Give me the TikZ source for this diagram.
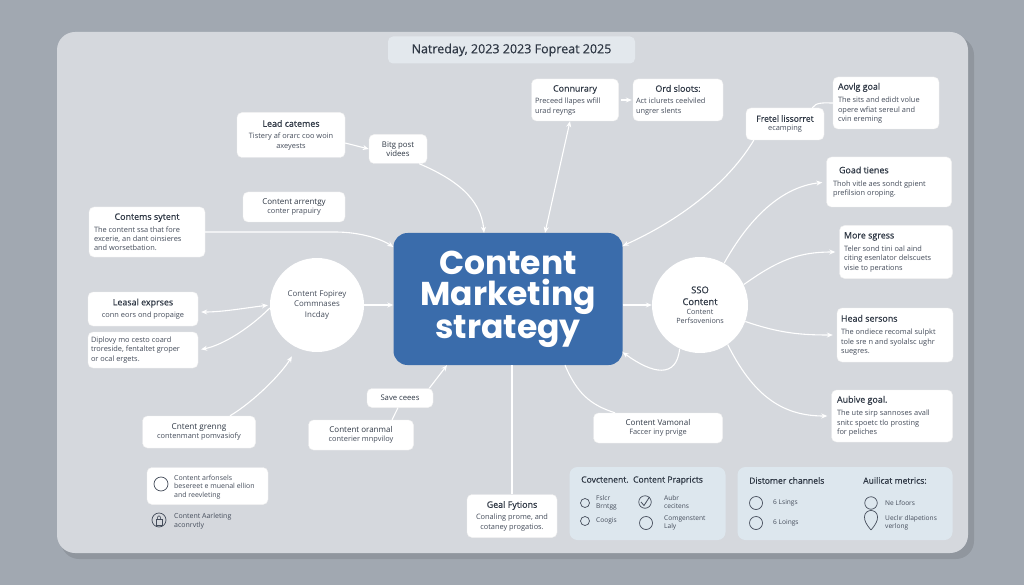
\documentclass[tikz,border=0pt]{standalone}
\usepackage{fontspec}
\setmainfont{Open Sans}
\newfontfamily\popfont{Poppins}
\newfontfamily\semifont{Open Sans}[FakeBold=0.5]
\usetikzlibrary{arrows.meta}
\definecolor{outerbg}{HTML}{A1A8B1}
\definecolor{panelbg}{HTML}{D5D8DD}
\definecolor{txt}{HTML}{454D5B}
\definecolor{ttlc}{HTML}{2F3845}
\definecolor{cblue}{HTML}{3A6CAB}
\definecolor{chk}{HTML}{DDE7EE}
\definecolor{titlebg}{HTML}{E3E8ED}
\newcommand\fz[2]{\fontsize{#1}{#2}\selectfont}
\newcommand\cttl[1]{{\centering\semifont\fz{8.9}{10.8}\color{ttlc}#1\par}\vspace{3pt}}
\newcommand\lttl[1]{{\semifont\fz{8.9}{10.8}\color{ttlc}#1\par}\vspace{4pt}}
\newcommand\bdy{\fz{7.4}{9.2}}
\tikzset{
  card/.style={fill=white, draw=white!88!gray, line width=0.4pt, rounded corners=5pt,
    inner sep=0pt, text=txt, align=flush center, font=\fz{7.4}{9.2}},
  conn/.style={draw=white, line width=1.1pt},
  arr/.style={conn, -{Stealth[length=6pt,width=5pt]}},
  arrb/.style={conn, {Stealth[length=6pt,width=5pt]}-{Stealth[length=6pt,width=5pt]}},
  bubble/.style={circle, fill=white, inner sep=0pt, text=txt, align=flush center},
  ico/.style={circle, draw=txt, line width=0.7pt, inner sep=0pt},
  itxt/.style={anchor=west, inner sep=0pt, text=txt, align=left, font=\fz{6.6}{7.5}},
  ptxt/.style={anchor=west, inner sep=0pt, text=ttlc, font=\semifont\fz{8.6}{10}},
}
\begin{document}
\begin{tikzpicture}[x=1pt,y=-1pt]
\useasboundingbox (0,0) rectangle (1024,585);
\fill[outerbg] (0,0) rectangle (1024,585);
\fill[black, opacity=0.10, rounded corners=18pt] (61,37) rectangle (974,559);
\fill[panelbg, rounded corners=18pt] (57,32) rectangle (968,553);

% title
\node[fill=titlebg, rounded corners=5pt, minimum width=247pt, minimum height=27pt, inner sep=0pt,
  text=ttlc, font=\semifont\fz{12.5}{14}] (title) at (511.5,50) {Natreday, 2023 2023 Fopreat 2025};

% central
\node[fill=cblue, rounded corners=14pt, minimum width=229pt, minimum height=132pt, inner sep=0pt,
  text=white, text width=210pt, align=flush center, font=\popfont\bfseries\fz{33}{31}] (central) at (508,299)
  {Content\\Marketing\\strategy};

% left side cards
\node[card, minimum width=108pt, minimum height=45pt, text width=102pt] (lead) at (291,135)
  {\cttl{Lead catemes}\bdy Tistery af orarc coo woin\\axeyests};
\node[card, minimum width=58pt, minimum height=29pt, text width=54pt, font=\fz{7.8}{9.4}] (blog) at (398,149)
  {\color{ttlc}Bitg post\\videes};
\node[card, minimum width=102pt, minimum height=30pt, text width=96pt] (arrentgy) at (294,207)
  {{\fz{8}{10}\color{ttlc}Content arrentgy\par}\bdy conter prapuiry};
\node[card, minimum width=116pt, minimum height=50pt, text width=106pt, align=flush left] (contems) at (147,232)
  {\cttl{Contems sytent}\bdy The content ssa that fore\\excerie, an dant oinsieres\\and worsetbation.};
\node[card, minimum width=110pt, minimum height=34pt, text width=104pt] (leasal) at (143,309)
  {\cttl{Leasal exprses}\bdy conn eors ond propaige};
\node[card, minimum width=110pt, minimum height=36pt, text width=104pt, align=flush left] (diplovy) at (143,350)
  {\bdy Diplovy mo cesto coard\\troreside, fentaltet groper\\or ocal ergets.};
\node[bubble, minimum size=94pt, text width=80pt, font=\fz{7.9}{10.8}] (lcirc) at (317,305)
  {Content Fopirey\\Commnases\\Incday};

% top cards
\node[card, minimum width=87pt, minimum height=42pt, text width=80pt, align=flush left] (connurary) at (575,100)
  {\cttl{Connurary}\bdy Preceed llapes wfill\\urad reyngs};
\node[card, minimum width=90pt, minimum height=42pt, text width=84pt, align=flush left] (ordsloots) at (678,100)
  {\cttl{Ord sloots:}\bdy Act iclurets ceelviled\\ungrer slents};
\node[card, minimum width=78pt, minimum height=32pt, text width=74pt] (fretel) at (785,124)
  {{\centering\semifont\fz{8.6}{10.5}\color{ttlc}Fretel lissorret\par}\bdy ecamping};

% right cards
\node[card, minimum width=106pt, minimum height=52pt, text width=96pt, align=flush left] (aovig) at (886,103)
  {\lttl{Aovlg goal}\bdy The sits and edidt volue\\opere wfiat sereul and\\cvin ereming};
\node[card, minimum width=125pt, minimum height=50pt, text width=112pt, align=flush left] (goad) at (889,182)
  {\lttl{\hspace*{6pt}Goad tienes}\bdy Thoh vitle aes sondt gpient\\prefilsion oroping.};
\node[card, minimum width=113pt, minimum height=53pt, text width=104pt, align=flush left] (more) at (896,252)
  {\lttl{More sgress}\bdy Teler sond tini oal aind\\citing esenlator delscuets\\visie to perations};
\node[card, minimum width=116pt, minimum height=54pt, text width=108pt, align=flush left] (head) at (895,335)
  {\lttl{Head sersons}\bdy The ondiece recomal sulpkt\\tole sre n and syolalsc ughr\\suegres.};
\node[card, minimum width=121pt, minimum height=52pt, text width=110pt, align=flush left] (aubive) at (892,416)
  {\lttl{Aubive goal.}\bdy The ute sirp sannoses avall\\snitc spoetc tlo prosting\\for peliches};
\node[bubble, minimum size=96pt, text width=82pt, font=\fz{7.2}{9.2}] (rcirc) at (700,305)
  {{\semifont\fz{9.4}{11.8}\color{ttlc}SSO\\Content\par}{\fz{7.2}{9.2}Content\\Perfsovenions\par}};

% bottom cards
\node[card, minimum width=129pt, minimum height=30pt, text width=120pt] (vamonal) at (658,428)
  {{\fz{8}{10}\color{ttlc}Content Vamonal\par}\bdy Faccer iny prvige};
\node[card, minimum width=90pt, minimum height=43pt, text width=88pt] (geal) at (512,516)
  {\cttl{Geal Fytions}\bdy Conaling prome, and\\cotaney progatios.};
\node[card, minimum width=113pt, minimum height=32pt, text width=106pt] (grening) at (199,432)
  {{\fz{8.2}{10}\color{ttlc}Cntent grenng\par}\bdy contenmant pomvasiofy};
\node[card, minimum width=105pt, minimum height=30pt, text width=100pt] (oranmal) at (361,435)
  {{\fz{8}{10}\color{ttlc}Content oranmal\par}\bdy conterier mnpviloy};
\node[card, minimum width=66pt, minimum height=19pt, text width=60pt, font=\fz{7.7}{9}] (save) at (400,398)
  {\color{ttlc}Save ceees};

% bottom-left items
\node[card, minimum width=121pt, minimum height=37pt] (artf) at (207.5,486) {};
\node[ico, minimum size=14pt] (artfi) at (161,484) {};
\node[itxt, font=\fz{7}{8.7}] (artft) at (174,487) {Content arfonsels\\besereet e muenal ellion\\and reevleting};
\node[ico, minimum size=14pt] (lockico) at (159,520) {};
\draw[txt, line width=0.6pt] (156,519.5) rectangle (162,525);
\draw[txt, line width=0.6pt] (157.2,519.5) .. controls (157.2,514.5) and (160.8,514.5) .. (160.8,519.5);
\node[itxt, font=\fz{7}{8.7}] (aarlt) at (174,521) {Content Aarleting\\aconrvtly};

% checklist panels
\node[fill=chk, rounded corners=8pt, minimum width=156pt, minimum height=73pt, inner sep=0pt] (p1) at (647.5,503.5) {};
\node[fill=chk, rounded corners=8pt, minimum width=215pt, minimum height=73pt, inner sep=0pt] (p2) at (845,503.5) {};
\node[ptxt] (p1t) at (581,480.5) {Covctenent.\ \ Content Prapricts};
\node[ptxt] (p2a) at (749,480.5) {Distomer channels};
\node[ptxt] (p2b) at (863,480.5) {Auilicat metrics:};

\node[ico, minimum size=9pt] (i1) at (585,503) {};
\node[itxt] (i1t) at (596,503) {Fslcr\\Brntgg};
\node[ico, minimum size=9pt] (i2) at (585,521) {};
\node[itxt] (i2t) at (596,521) {Coogis};
\node[ico, minimum size=12.5pt] (i3) at (645,502) {};
\draw[txt, line width=0.8pt] (641,502) -- (644,505.5) -- (649.5,497);
\node[itxt] (i3t) at (664,502) {Aubr\\cecitens};
\node[ico, minimum size=13pt] (i4) at (646,523) {};
\node[itxt] (i4t) at (664,523) {Comgenstent\\Laly};

\node[ico, minimum size=13pt] (j1) at (756,503) {};
\node[itxt] (j1t) at (773,503) {6 Lsings};
\node[ico, minimum size=13pt] (j2) at (756,523) {};
\node[itxt] (j2t) at (773,523) {6 Loings};
\node[ico, minimum size=12.5pt] (j3) at (871,503) {};
\node[itxt] (j3t) at (885,503) {Ne Lfoors};
\draw[txt, line width=0.7pt] (871,530) .. controls (866,524) and (864.5,521) .. (864.5,517)
  .. controls (864.5,513) and (867.5,510.5) .. (871,510.5) .. controls (874.5,510.5) and (877.5,513) .. (877.5,517)
  .. controls (877.5,521) and (876,524) .. (871,530);
\node[itxt] (j4t) at (885,523) {Ueclır dlapetions\\verlong};

% connectors
\draw[arr] ([yshift=-8pt]lead.east) -- (blog.west);
\draw[arr] ([xshift=-8pt]blog.south east) .. controls +(35,15) and +(-3,-35) .. ([xshift=-24pt]central.north);
\draw[arrb] ([xshift=37pt]central.north) -- ([xshift=-5pt]connurary.south);
\draw[arr, shorten <=2pt, shorten >=1pt] (connurary.east) -- (ordsloots.west);
\draw[arr] ([xshift=8pt]fretel.south west) .. controls +(-30,50) and +(45,-20) .. ([yshift=-13pt]central.north east);
\draw[conn] ([xshift=-12pt]fretel.north east) .. controls +(4,-6) and +(-8,0) .. (aovig.west);
\draw[arr, shorten >=4pt] (rcirc.60) .. controls +(25,-45) and +(-45,5) .. (goad.west);
\draw[arr, shorten >=4pt] (rcirc.25) .. controls +(35,-25) and +(-40,0) .. (more.west);
\draw[arr, shorten >=4pt] (rcirc.-20) .. controls +(35,12) and +(-35,0) .. (head.west);
\draw[arr, shorten >=4pt] (rcirc.-55) .. controls +(25,50) and +(-50,0) .. (aubive.west);
\draw[arr] (rcirc.-115) .. controls +(-3,30) and +(30,22) .. ([yshift=13pt]central.south east);
\draw[arr] ([yshift=-6pt]central.east) -- (rcirc.west);
\draw[conn] ([xshift=57pt]central.south) .. controls +(12,28) and +(-25,-8) .. ([xshift=-43pt]vamonal.north);
\draw[conn] (central.south -| geal.north) -- (geal.north);
\draw[conn] ([xshift=31pt]oranmal.north) -- ([xshift=-2pt]save.south);
\draw[arr] ([xshift=-4pt]save.north east) -- ([xshift=-61pt]central.south);
\draw[arr, shorten >=10pt] ([xshift=31pt]grening.north) .. controls +(25,-15) and +(-15,25) .. (lcirc.-115);
\draw[arr] (lcirc.east) -- ([yshift=-6pt]central.west);
\draw[arr] (contems.east) -- ++(130,0) .. controls +(25,0) and +(-12,-8) .. ([yshift=52pt]central.west);
\draw[arrb, shorten <=2pt, shorten >=3pt] (lcirc.west) .. controls +(-25,3) and +(25,0) .. ([yshift=-3pt]leasal.east);
\draw[arr, shorten >=3pt] ([yshift=-3pt]lcirc.west) .. controls +(-20,20) and +(25,-5) .. (diplovy.east);
\end{tikzpicture}
\end{document}
